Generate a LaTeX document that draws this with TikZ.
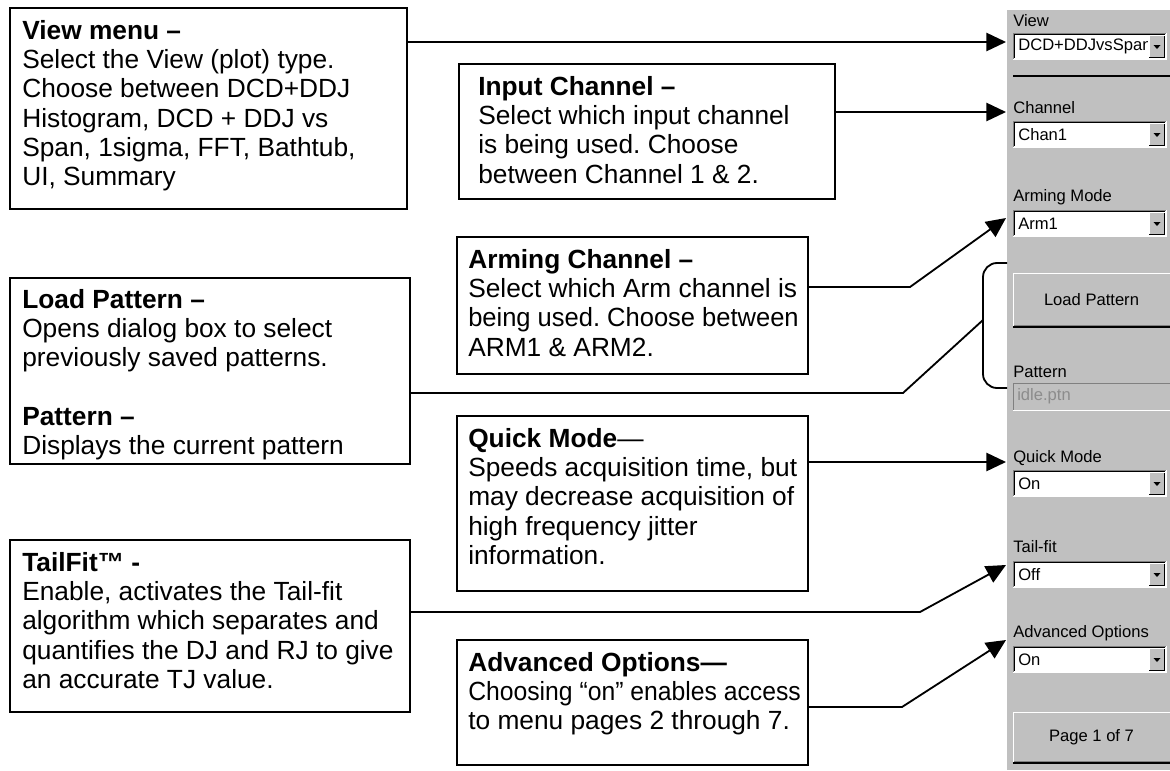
\documentclass[tikz,border=0pt]{standalone}
\usepackage{fontspec}
\setmainfont{Liberation Sans}
\usetikzlibrary{arrows.meta,fit}

\definecolor{guigray}{HTML}{C0C0C0}
\definecolor{guidark}{HTML}{808080}
\definecolor{guidim}{HTML}{8C8C8C}

\tikzset{
  descbox/.style={draw=black, line width=1.3pt, inner sep=0pt},
  desctext/.style={anchor=north west, inner sep=0pt, align=left,
    font=\fontsize{18.7}{20.8}\selectfont\frenchspacing},
  pointer/.style={draw=black, line width=1.3pt, -{Triangle[length=14pt,width=13pt]}},
  leader/.style={draw=black, line width=1.3pt},
  guilabel/.style={anchor=west, inner sep=0pt, font=\fontsize{11.8}{14}\selectfont},
  guiedge/.style={line width=0.7pt}
}

% drop-down field: name, top, text
\newcommand{\guicombo}[3]{%
  \fill[white] (1013,#2) rectangle (1166,#2+26);
  \draw[guiedge, guidark] (1013,#2+26) -- (1013,#2) -- (1166,#2);
  \draw[guiedge, black] (1014.5,#2+24.5) -- (1014.5,#2+1.5) -- (1164.5,#2+1.5);
  \draw[guiedge, white] (1013,#2+26) -- (1166,#2+26) -- (1166,#2);
  \begin{scope}
    \clip (1015,#2) rectangle (1147,#2+26);
    \node[guilabel] (#1) at (1018,#2+13.5) {#3};
  \end{scope}
  \fill[guigray] (1149,#2+2.5) rectangle (1164.5,#2+24.5);
  \draw[guiedge, white] (1149,#2+24.5) -- (1149,#2+2.5) -- (1164.5,#2+2.5);
  \draw[guiedge, black] (1149,#2+24.5) -- (1164.5,#2+24.5) -- (1164.5,#2+2.5);
  \fill[black] (1153.5,#2+12) -- (1160.5,#2+12) -- (1157,#2+16) -- cycle;
}
% push button: name, top, bottom, text
\newcommand{\guibutton}[4]{%
  \fill[guigray] (1013,#2) rectangle (1170,#3);
  \draw[guiedge, white] (1013,#3) -- (1013,#2) -- (1170,#2);
  \draw[line width=1.4pt, black] (1013,#3) -- (1170,#3);
  \draw[guiedge, guidark] (1014,#3-2) -- (1170,#3-2);
  \node[guilabel, anchor=center] (#1) at (1091.5,{(#2+#3)/2}) {#4};
}

\begin{document}
\begin{tikzpicture}[x=0.025cm, y=-0.025cm]
\useasboundingbox (0,0) rectangle (1170,770);

% instrument panel
\fill[guigray] (1007,10) rectangle (1170,770);
\node[guilabel] (viewlabel) at (1013,21) {View};
\guicombo{viewcombo}{33}{DCD+DDJvsSpan}
\draw[line width=1.4pt, black] (1013,76) -- (1170,76);
\node[guilabel] (chanlabel) at (1013,108) {Channel};
\guicombo{chancombo}{121}{Chan1}
\node[guilabel] (armlabel) at (1013,197) {Arming Mode};
\guicombo{armcombo}{210}{Arm1}
\guibutton{loadbutton}{273}{327}{Load Pattern}
\node[guilabel] (patlabel) at (1013,372) {Pattern};
\draw[guiedge, guidark] (1013,410) -- (1013,383) -- (1170,383);
\draw[guiedge, white] (1013,410) -- (1170,410);
\node[guilabel, text=guidim] (patfield) at (1017,396.5) {idle.ptn};
\node[guilabel] (quicklabel) at (1013,458) {Quick Mode};
\guicombo{quickcombo}{470}{On}
\node[guilabel] (taillabel) at (1013,547) {Tail-fit};
\guicombo{tailcombo}{561}{Off}
\node[guilabel] (advlabel) at (1013,633) {Advanced Options};
\guicombo{advcombo}{646}{On}
\guibutton{pagebutton}{712}{763}{Page 1 of 7}
\draw[leader, rounded corners=10] (1007,263) -- (983,263) -- (983,388) -- (1007,388);

% callout boxes
\node[descbox, fit={(10,8) (407,209)}] (viewbox) {};
\node[desctext] (viewtext) at (22,20) {\textbf{View menu –}\\
  Select the View (plot) type.\\
  Choose between DCD+DDJ\\
  Histogram, DCD + DDJ vs\\
  Span, 1sigma, FFT, Bathtub,\\
  UI, Summary};

\node[descbox, fit={(459,64) (835,199)}] (inputbox) {};
\node[desctext] (inputtext) at (478,76) {\textbf{Input Channel –}\\
  Select which input channel\\
  is being used. Choose\\
  between Channel 1 \& 2.};

\node[descbox, fit={(457,237) (808,374)}] (armbox) {};
\node[desctext] (armtext) at (468,249) {\textbf{Arming Channel –}\\
  Select which Arm channel is\\
  \scalebox{0.97}[1]{being used. Choose between}\\
  ARM1 \& ARM2.};

\node[descbox, fit={(10,278) (410,464)}] (loadbox) {};
\node[desctext] (loadtext) at (22,289) {\textbf{Load Pattern –}\\
  Opens dialog box to select\\
  previously saved patterns.\\[20.8pt]
  \textbf{Pattern –}\\
  Displays the current pattern};

\node[descbox, fit={(457,416) (808,591)}] (quickbox) {};
\node[desctext] (quicktext) at (468,428) {\textbf{Quick Mode}—\\
  Speeds acquisition time, but\\
  may decrease acquisition of\\
  high frequency jitter\\
  information.};

\node[descbox, fit={(10,540) (410,712)}] (tailbox) {};
\node[desctext] (tailtext) at (22,552) {\textbf{TailFit™ -}\\
  Enable, activates the Tail-fit\\
  algorithm which separates and\\
  quantifies the DJ and RJ to give\\
  an accurate TJ value.};

\node[descbox, fit={(457,640) (808,765)}] (advbox) {};
\node[desctext] (advtext) at (468,652) {\textbf{Advanced Options—}\\
  \scalebox{0.94}[1]{Choosing “on” enables access}\\
  to menu pages 2 through 7.};

% connectors
\coordinate (viewtip) at (1006,42);
\coordinate (inputtip) at (1006,112);
\coordinate (armbend) at (910,287);
\coordinate (armtip) at (1006,218);
\coordinate (loadbend) at (903,393);
\coordinate (loadtip) at (983,320);
\coordinate (quicktip) at (1006,462);
\coordinate (tailbend) at (920,612);
\coordinate (tailtip) at (1006,565);
\coordinate (advbend) at (902,707);
\coordinate (advtip) at (1006,640);

\draw[pointer] (viewbox.east |- viewtip) -- (viewtip);
\draw[pointer] (inputbox.east |- inputtip) -- (inputtip);
\draw[pointer] (armbox.east |- armbend) -- (armbend) -- (armtip);
\draw[leader] (loadbox.east |- loadbend) -- (loadbend) -- (loadtip);
\draw[pointer] (quickbox.east |- quicktip) -- (quicktip);
\draw[pointer] (tailbox.east |- tailbend) -- (tailbend) -- (tailtip);
\draw[pointer] (advbox.east |- advbend) -- (advbend) -- (advtip);
\end{tikzpicture}
\end{document}
